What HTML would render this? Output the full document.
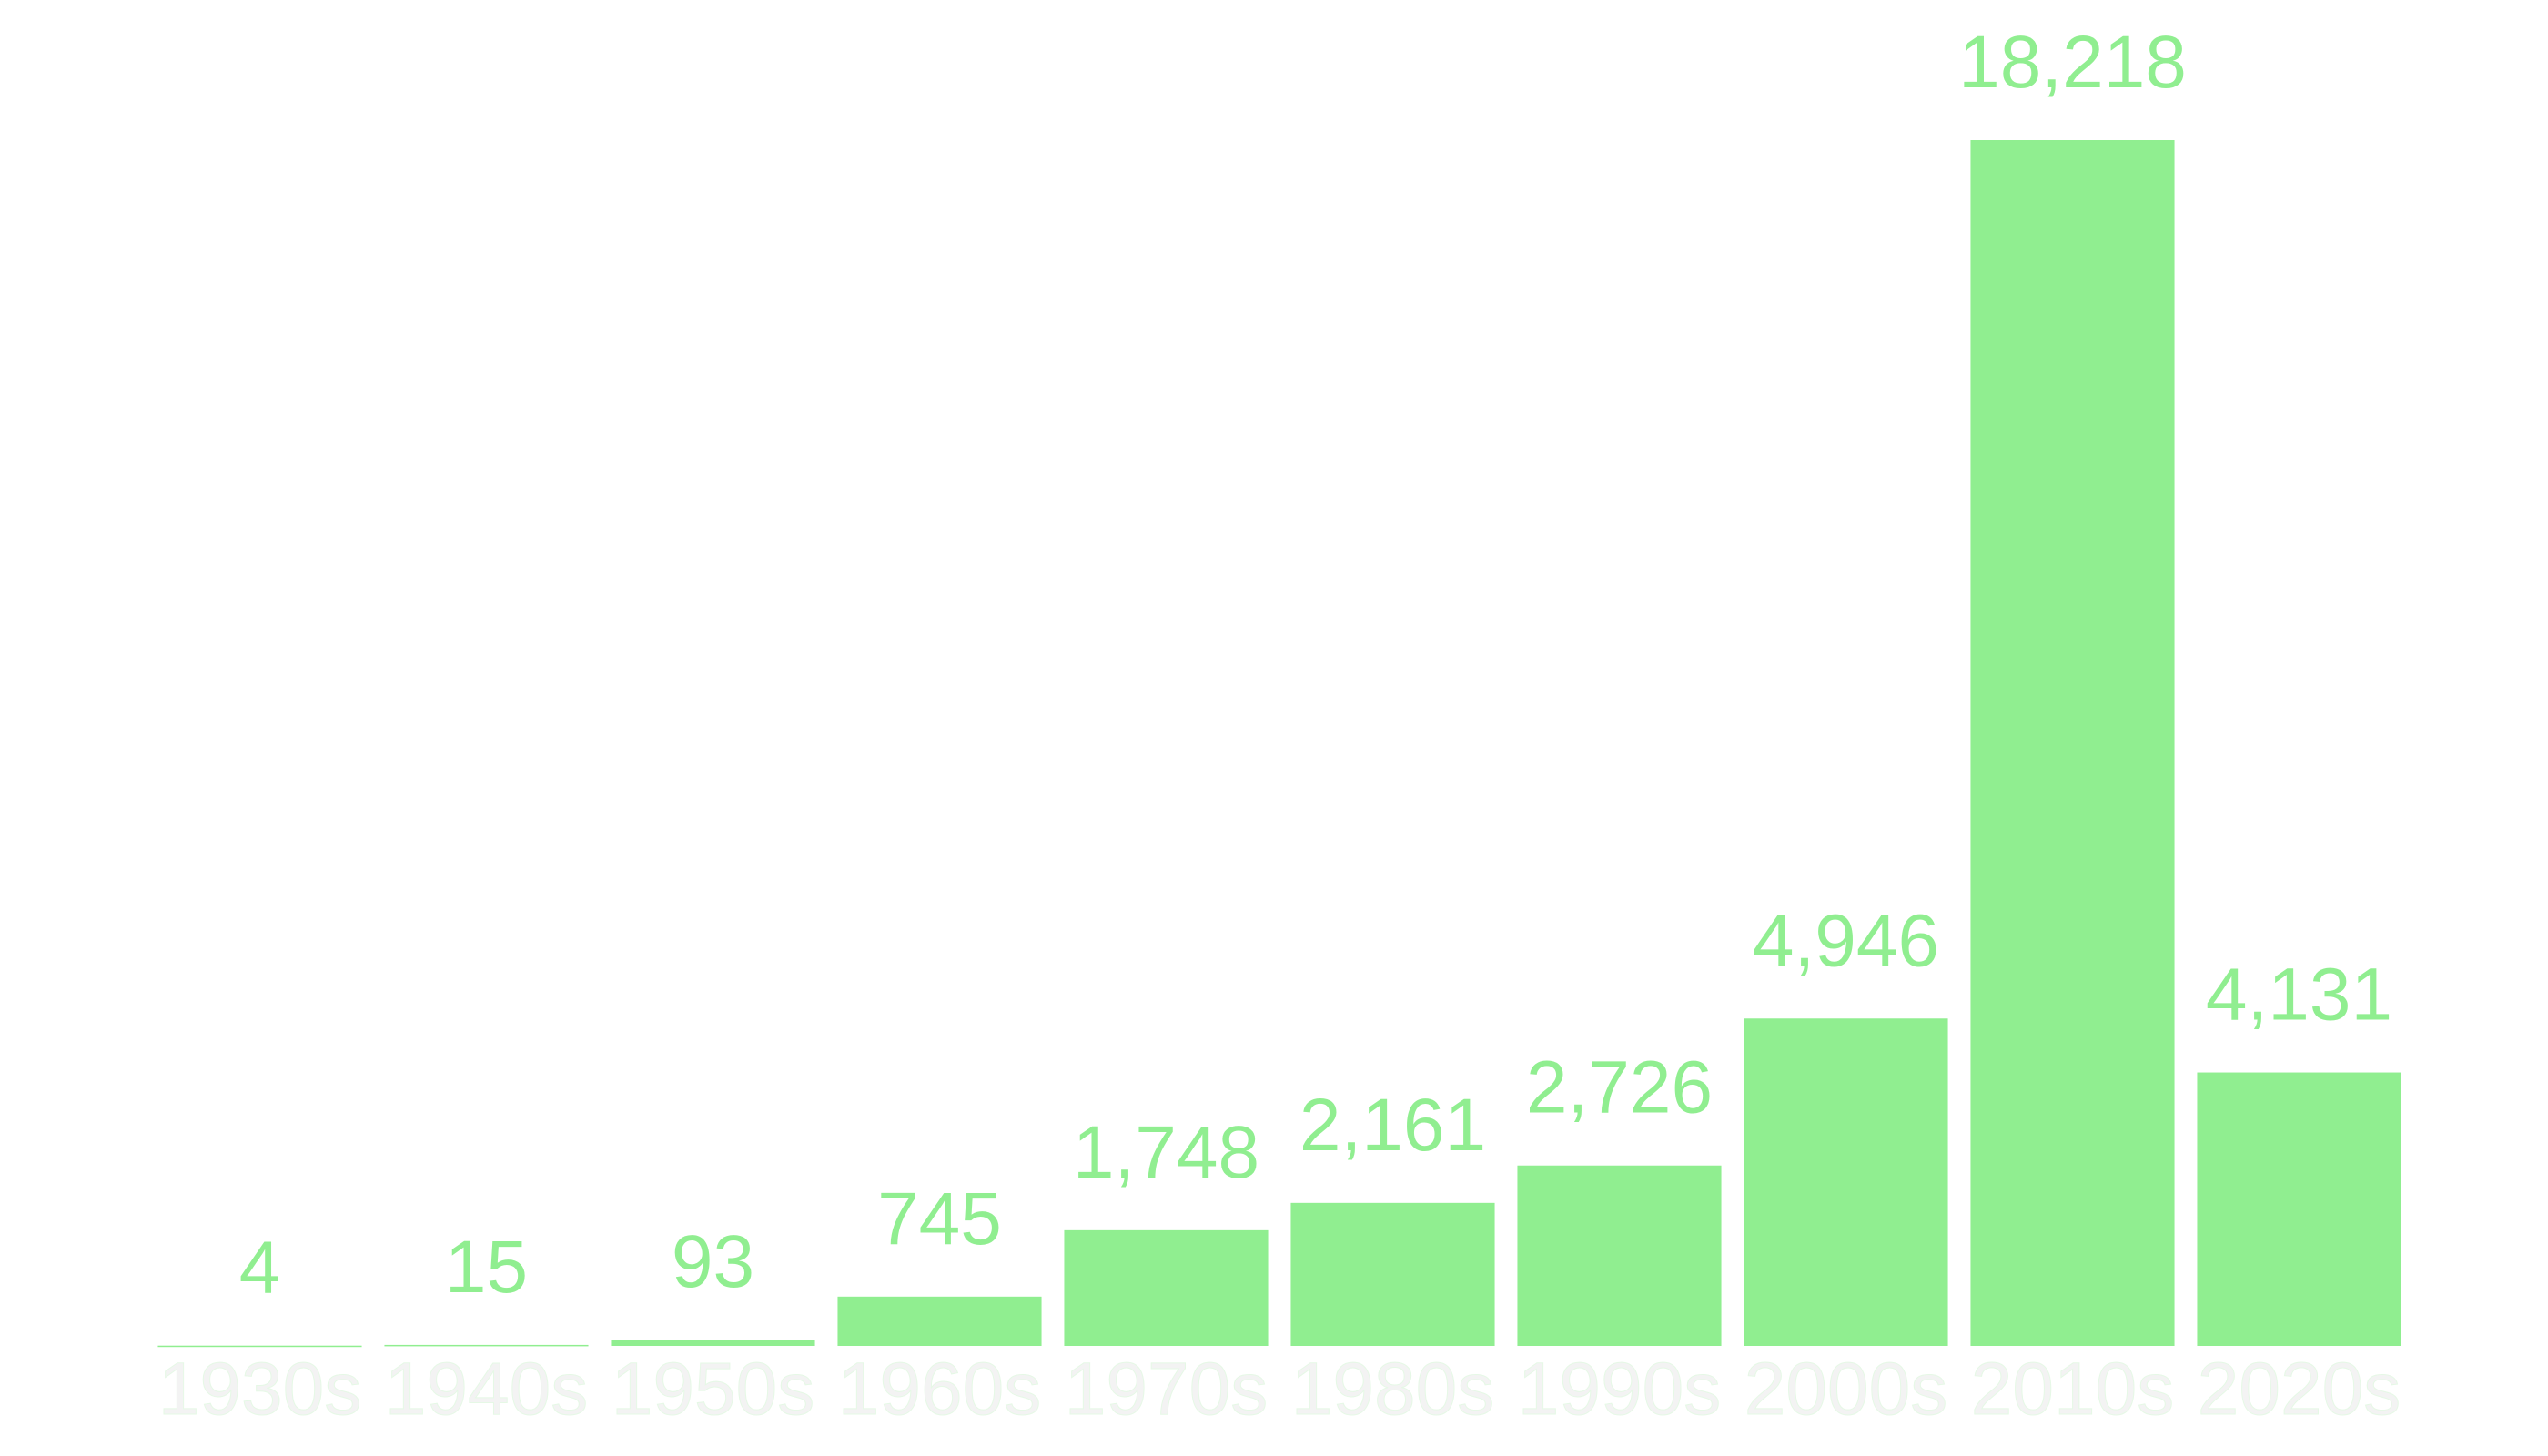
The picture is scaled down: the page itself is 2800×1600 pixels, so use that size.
<!DOCTYPE html>
<html><head><meta charset="utf-8"><style>
html,body{margin:0;padding:0;background:#fff;width:2800px;height:1600px;overflow:hidden}
svg{display:block}
text{font-family:"Liberation Sans",Arial,sans-serif}
</style></head><body>
<svg id="chart" width="2800" height="1600" xmlns="http://www.w3.org/2000/svg"></svg>
<script>
const categories = ["1930s","1940s","1950s","1960s","1970s","1980s","1990s","2000s","2010s","2020s"];
const values = [4,15,93,745,1748,2161,2726,4946,18218,4131];
const valueLabels = ["4","15","93","745","1,748","2,161","2,726","4,946","18,218","4,131"];

const svg = document.getElementById('chart');
const NS = 'http://www.w3.org/2000/svg';
const left = 161, right = 2651, baseY = 1479, topY = 154;
const maxV = 18218;
const band = (right - left) / categories.length;
const pad = 0.1;
function xScale(i){ return left + i*band + band*pad/2; }
const barW = band*(1-pad);
function yScale(v){ return baseY - (v/maxV)*(baseY-topY); }

categories.forEach((c,i)=>{
  const x = xScale(i), y = yScale(values[i]);
  const r = document.createElementNS(NS,'rect');
  r.setAttribute('x',x); r.setAttribute('y',y);
  r.setAttribute('width',barW); r.setAttribute('height',Math.max(baseY-y,1.5));
  r.setAttribute('fill','#90ee90');
  
  
  svg.appendChild(r);

  const t = document.createElementNS(NS,'text');
  t.setAttribute('x',x+barW/2); t.setAttribute('y',y-58);
  t.setAttribute('text-anchor','middle'); t.setAttribute('font-size','82');
  t.setAttribute('fill','#90ee90');
  t.textContent = valueLabels[i];
  
  
  svg.appendChild(t);

  const a = document.createElementNS(NS,'text');
  a.setAttribute('x',x+barW/2); a.setAttribute('y',1554);
  a.setAttribute('text-anchor','middle'); a.setAttribute('font-size','82');
  a.setAttribute('fill','#f3f3f3'); a.setAttribute('stroke','#e6f8e6'); a.setAttribute('stroke-width','1');
  a.textContent = c;
  
  
  svg.appendChild(a);
});
</script>
</body></html>
